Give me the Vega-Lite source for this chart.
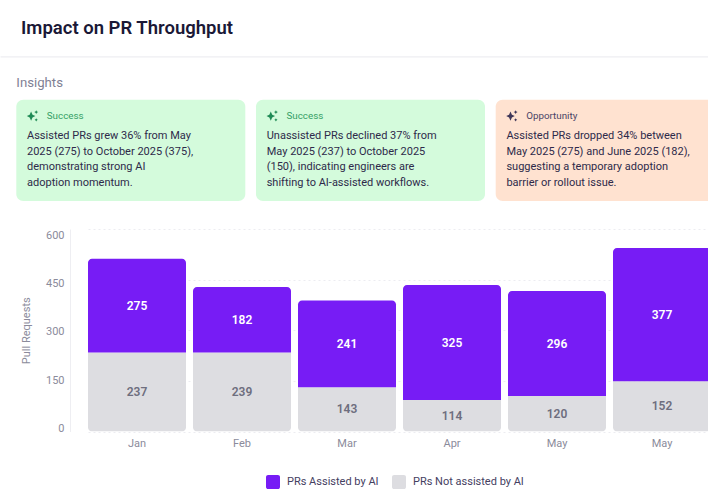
{
"$schema":"https://vega.github.io/schema/vega-lite/v6.json",
"background":"#ffffff",
"padding":{"left":0,"top":19,"right":0,"bottom":0},
"spacing":0,
"title":{"text":"Impact on PR Throughput","anchor":"start","dx":21,"offset":7.5,"fontSize":18.5,"fontWeight":600,"font":"Roboto","color":"#1a1836"},
"config":{"font":"Roboto","view":{"stroke":null}},
"datasets":{
"cards":[{"card":1,"type":"Success"},{"card":2,"type":"Success"},{"card":3,"type":"Opportunity"}],
"body":[
{"card":1,"line":1,"text":"Assisted PRs grew 36% from May"},
{"card":1,"line":2,"text":"2025 (275) to October 2025 (375),"},
{"card":1,"line":3,"text":"demonstrating strong AI"},
{"card":1,"line":4,"text":"adoption momentum."},
{"card":2,"line":1,"text":"Unassisted PRs declined 37% from"},
{"card":2,"line":2,"text":"May 2025 (237) to October 2025"},
{"card":2,"line":3,"text":"(150), indicating engineers are"},
{"card":2,"line":4,"text":"shifting to AI-assisted workflows."},
{"card":3,"line":1,"text":"Assisted PRs dropped 34% between"},
{"card":3,"line":2,"text":"May 2025 (275) and June 2025 (182),"},
{"card":3,"line":3,"text":"suggesting a temporary adoption"},
{"card":3,"line":4,"text":"barrier or rollout issue."}
],
"bars":[
{"month":"Jan","series":"PRs Assisted by AI","value":278,"label":275},
{"month":"Jan","series":"PRs Not assisted by AI","value":234,"label":237},
{"month":"Feb","series":"PRs Assisted by AI","value":194,"label":182},
{"month":"Feb","series":"PRs Not assisted by AI","value":234,"label":239},
{"month":"Mar","series":"PRs Assisted by AI","value":257,"label":241},
{"month":"Mar","series":"PRs Not assisted by AI","value":131,"label":143},
{"month":"Apr","series":"PRs Assisted by AI","value":341,"label":325},
{"month":"Apr","series":"PRs Not assisted by AI","value":93,"label":114},
{"month":"May","series":"PRs Assisted by AI","value":311,"label":296},
{"month":"May","series":"PRs Not assisted by AI","value":105,"label":120},
{"month":"May (2)","series":"PRs Assisted by AI","value":395,"label":377},
{"month":"May (2)","series":"PRs Not assisted by AI","value":149,"label":152}
]
},
"vconcat":[
{
"width":638,
"height":183.5,
"layer":[
{"mark":{"type":"rule","color":"#e9e9ee","strokeWidth":1},
 "data":{"values":[{"name":"divider"}]},
 "encoding":{
  "x":{"datum":0,"type":"quantitative","scale":{"domain":[0,1],"range":[-69.5,638]},"axis":null},
  "x2":{"datum":1},
  "y":{"datum":-4.04,"type":"quantitative","scale":{"domain":[-4.8,6.91],"reverse":true,"nice":false,"zero":false},"axis":null}}},
{"mark":{"type":"text","align":"left","baseline":"middle","fontSize":13.2,"color":"#7f7f94"},
 "data":{"values":[{"card":1,"line":-2.38,"text":"Insights"}]},
 "encoding":{
  "x":{"field":"card","type":"ordinal","bandPosition":0,"scale":{"type":"band","domain":[1,2,3],"range":[-53.7,654.7],"paddingInner":0.0446,"paddingOuter":0},"axis":null},
  "y":{"field":"line","type":"quantitative","axis":null},
  "text":{"field":"text"}}},
{"mark":{"type":"rect","cornerRadius":7},
 "data":{"name":"cards"},
 "encoding":{
  "x":{"field":"card","type":"ordinal","scale":{"type":"band","domain":[1,2,3],"range":[-53.7,654.7],"paddingInner":0.0446,"paddingOuter":0},"axis":null},
  "y":{"datum":-1.3,"type":"quantitative","axis":null},
  "y2":{"datum":5.15},
  "color":{"field":"type","type":"nominal","scale":{"domain":["Success","Opportunity"],"range":["#d4fbdc","#ffe2d0"]},"legend":null}}},
{"mark":{"type":"point","shape":"M-0.3,-0.75L-0.05,-0.2L0.45,0.05L-0.05,0.3L-0.3,0.85L-0.55,0.3L-1.05,0.05L-0.55,-0.2ZM0.6,-1L0.72,-0.77L0.95,-0.65L0.72,-0.53L0.6,-0.3L0.48,-0.53L0.25,-0.65L0.48,-0.77ZM0.6,0.42L0.7,0.6L0.88,0.7L0.7,0.8L0.6,0.98L0.5,0.8L0.32,0.7L0.5,0.6Z","filled":true,"size":130,"opacity":1,"xOffset":16.5},
 "data":{"name":"cards"},
 "encoding":{
  "x":{"field":"card","type":"ordinal","bandPosition":0,"scale":{"type":"band","domain":[1,2,3],"range":[-53.7,654.7],"paddingInner":0.0446,"paddingOuter":0},"axis":null},
  "y":{"datum":-0.28,"type":"quantitative","axis":null},
  "fill":{"field":"type","type":"nominal","scale":{"domain":["Success","Opportunity"],"range":["#1f8a55","#3e3658"]},"legend":null}}},
{"mark":{"type":"text","align":"left","baseline":"middle","fontSize":9.8,"dx":30.5},
 "data":{"name":"cards"},
 "encoding":{
  "x":{"field":"card","type":"ordinal","bandPosition":0,"scale":{"type":"band","domain":[1,2,3],"range":[-53.7,654.7],"paddingInner":0.0446,"paddingOuter":0},"axis":null},
  "y":{"datum":-0.28,"type":"quantitative","axis":null},
  "text":{"field":"type"},
  "fill":{"field":"type","type":"nominal","scale":{"domain":["Success","Opportunity"],"range":["#35a066","#4b4466"]},"legend":null}}},
{"mark":{"type":"text","align":"left","baseline":"middle","fontSize":11,"dx":10.7,"color":"#2e2a4a"},
 "data":{"name":"body"},
 "encoding":{
  "x":{"field":"card","type":"ordinal","bandPosition":0,"scale":{"type":"band","domain":[1,2,3],"range":[-53.7,654.7],"paddingInner":0.0446,"paddingOuter":0},"axis":null},
  "y":{"field":"line","type":"quantitative","axis":null},
  "text":{"field":"text"}}}
],
"resolve":{"scale":{"x":"independent","color":"independent","fill":"independent"}}
},
{
"width":638,
"height":202.5,
"data":{"name":"bars"},
"transform":[
 {"stack":"value","groupby":["month"],"sort":[{"field":"series","order":"descending"}],"as":["y0","y1"]},
 {"calculate":"(datum.y0+datum.y1)/2","as":"mid"}
],
"encoding":{
 "x":{"field":"month","type":"ordinal","sort":null,"title":null,
  "scale":{"type":"band","range":[18,641],"paddingInner":0.0667,"paddingOuter":0},
  "axis":{"domain":false,"ticks":false,"labelAngle":0,"labelPadding":6,"labelFontSize":11,"labelColor":"#8b8b9b","labelExpr":"replace(datum.label,' (2)','')"}},
 "y":{"field":"y0","type":"quantitative",
  "scale":{"domain":[0,600],"nice":false},
  "axis":{"values":[0,150,300,450,600],"ticks":false,"domainColor":"#eeeef2","gridColor":"#ececf1","gridDash":[2,3],"labelPadding":6,"labelFontSize":11,"labelColor":"#8b8b9b","titleFontSize":11,"titleFontWeight":"normal","titleColor":"#8b8b9b","title":"Pull Requests","titlePadding":14,
   "encoding":{"labels":{"dy":{"value":{"expr":"(datum.value-190)*0.0158"}}}}}},
 "y2":{"field":"y1"}
},
"layer":[
{"transform":[{"filter":"datum.series==='PRs Not assisted by AI'"}],
 "mark":{"type":"bar","clip":true,"cornerRadiusBottomLeft":4,"cornerRadiusBottomRight":4},
 "encoding":{"color":{"field":"series","type":"nominal","title":null,
   "scale":{"domain":["PRs Assisted by AI","PRs Not assisted by AI"],"range":["#771cf5","#dddde1"]},
   "legend":{"orient":"none","legendX":196,"legendY":430,"direction":"horizontal","symbolType":"M-0.7,-1H0.7A0.3,0.3 0 0 1 1,-0.7V0.7A0.3,0.3 0 0 1 0.7,1H-0.7A0.3,0.3 0 0 1 -1,0.7V-0.7A0.3,0.3 0 0 1 -0.7,-1Z","symbolSize":196,"symbolStrokeWidth":0,"symbolOpacity":1,"labelFontSize":11,"labelColor":"#45405f","labelOffset":7,"columnPadding":13}}}},
{"transform":[{"filter":"datum.series==='PRs Assisted by AI'"}],
 "mark":{"type":"bar","clip":true,"cornerRadiusTopLeft":4,"cornerRadiusTopRight":4},
 "encoding":{"color":{"field":"series","type":"nominal"}}},
{"mark":{"type":"text","fontSize":12,"fontWeight":600,"baseline":"middle"},
 "encoding":{
  "y":{"field":"mid","type":"quantitative"},
  "y2":null,
  "text":{"field":"label","type":"quantitative"},
  "color":{"condition":{"test":"datum.series==='PRs Assisted by AI'","value":"#ffffff"},"value":"#6e6e7e"}}}
]
}
]
}
